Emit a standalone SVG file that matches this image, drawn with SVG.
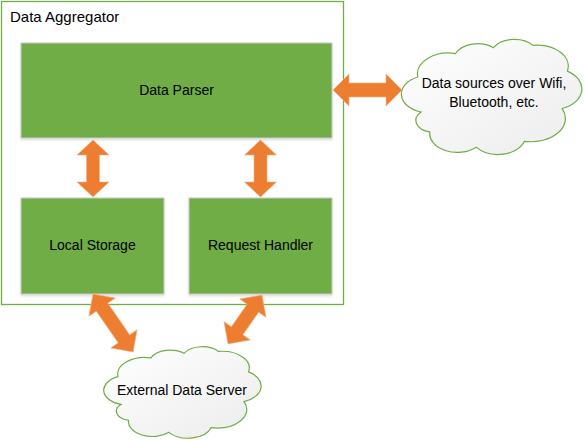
<svg xmlns="http://www.w3.org/2000/svg" width="585" height="440" viewBox="0 0 585 440">
<style>
  .frame{fill:#fff;stroke:#70AD47;stroke-width:1.3}
  .box{fill:#70AD47;stroke:#c9c9c9;stroke-width:1}
  .arrow{fill:#ED7D31;stroke:#f4b183;stroke-width:0.6}
  .cloud{fill:url(#cg);stroke:#70AD47;stroke-width:1.2;vector-effect:non-scaling-stroke}
  .t{font-family:"Liberation Sans",Arial,sans-serif;font-size:14px;fill:#000}
  .c{text-anchor:middle}
</style>
<defs>
  <linearGradient id="cg" x1="0" y1="0" x2="1" y2="1">
    <stop offset="0" stop-color="#ffffff"/>
    <stop offset="1" stop-color="#ececec"/>
  </linearGradient>
  <filter id="sh" x="-10%" y="-10%" width="120%" height="130%">
    <feDropShadow dx="0" dy="1.5" stdDeviation="1.2" flood-color="#000" flood-opacity="0.15"/>
  </filter>
</defs>

<g id="data-aggregator">
  <rect class="frame" x="1.5" y="1.5" width="342" height="303"/>
  <text class="t" x="10" y="22" style="font-size:15px">Data Aggregator</text>
</g>

<g id="data-parser">
  <rect class="box" x="21" y="43" width="311" height="95" filter="url(#sh)"/>
  <text class="t c" x="176.5" y="95">Data Parser</text>
</g>

<g id="local-storage">
  <rect class="box" x="21" y="198" width="143" height="96" filter="url(#sh)"/>
  <text class="t c" x="92.5" y="250">Local Storage</text>
</g>

<g id="request-handler">
  <rect class="box" x="189" y="198" width="143" height="96" filter="url(#sh)"/>
  <text class="t c" x="260.5" y="250">Request Handler</text>
</g>

<g id="data-sources">
  <path class="cloud" transform="translate(404,36) scale(1.72,1.17)" d="M10,65 A16,16 0 0 1 8,35 A18,18 0 0 1 30,15 A14,14 0 0 1 52,10 A14,14 0 0 1 75,8 A18,18 0 0 1 95,30 A18,18 0 0 1 92,62 A20,20 0 0 1 70,90 A16,16 0 0 1 42,95 A16,16 0 0 1 15,82 A10,10 0 0 1 10,65 Z"/>
  <text class="t c" x="494" y="88">Data sources over Wifi,</text>
  <text class="t c" x="494" y="107">Bluetooth, etc.</text>
</g>

<g id="external-data-server">
  <path class="cloud" transform="translate(106,344) scale(1.5,0.93)" d="M10,65 A16,16 0 0 1 8,35 A18,18 0 0 1 30,15 A14,14 0 0 1 52,10 A14,14 0 0 1 75,8 A18,18 0 0 1 95,30 A18,18 0 0 1 92,62 A20,20 0 0 1 70,90 A16,16 0 0 1 42,95 A16,16 0 0 1 15,82 A10,10 0 0 1 10,65 Z"/>
  <text class="t c" x="182" y="395">External Data Server</text>
</g>

<g id="connectors">
  <polygon class="arrow" points="93,140 109,155 99.5,155 99.5,182 109,182 93,197 77,182 86.5,182 86.5,155 77,155"/>
  <polygon class="arrow" points="260.5,140 276.5,155 267,155 267,182 276.5,182 260.5,197 244.5,182 254,182 254,155 244.5,155"/>
  <polygon class="arrow" points="333,90 349,74 349,83 386,83 386,74 402,90 386,106 386,97 349,97 349,106"/>
  <polygon class="arrow" transform="translate(93,294) rotate(55.4)" points="0,0 16,-16 16,-7 54.5,-7 54.5,-16 70.5,0 54.5,16 54.5,7 16,7 16,16"/>
  <polygon class="arrow" transform="translate(262,295) rotate(124.8)" points="0,0 16,-16 16,-7 43.6,-7 43.6,-16 59.6,0 43.6,16 43.6,7 16,7 16,16"/>
</g>
</svg>
